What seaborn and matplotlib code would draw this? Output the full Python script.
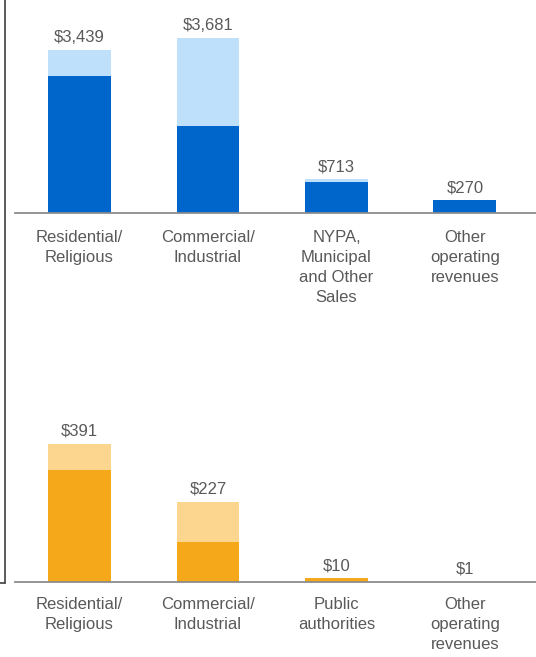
import matplotlib
matplotlib.use("Agg")
import matplotlib.pyplot as plt
from matplotlib.lines import Line2D
import seaborn as sns
import pandas as pd

# Electric operating revenues ($ millions)
elec_categories = ["Residential/\nReligious", "Commercial/\nIndustrial",
                   "NYPA,\nMunicipal\nand Other\nSales", "Other\noperating\nrevenues"]
elec_totals = [3439, 3681, 713, 270]
elec_base = [2900, 1845, 650, 270]

# Gas operating revenues ($ millions)
gas_categories = ["Residential/\nReligious", "Commercial/\nIndustrial",
                  "Public\nauthorities", "Other\noperating\nrevenues"]
gas_totals = [391, 227, 10, 1]
gas_base = [318, 114, 10, 1]

ELEC_DARK, ELEC_LIGHT = "#0066CC", "#BEE0FB"
GAS_DARK, GAS_LIGHT = "#F6A81B", "#FCD58F"
TEXT = "#595959"

sns.set_theme(style="white")
plt.rcParams["font.family"] = ["Liberation Sans", "DejaVu Sans"]

W, H = 536, 657
fig = plt.figure(figsize=(W / 100, H / 100), dpi=100)


def panel(rect, cats, totals, base, dark, light, ymax, pad):
    ax = fig.add_axes(rect)
    df = pd.DataFrame({"cat": cats, "total": totals, "base": base})
    sns.barplot(data=df, x="cat", y="total", order=cats, color=light,
                saturation=1, width=0.49, linewidth=0, ax=ax)
    sns.barplot(data=df, x="cat", y="base", order=cats, color=dark,
                saturation=1, width=0.49, linewidth=0, ax=ax)
    ax.set_xlim(-0.502, 3.553)
    ax.set_ylim(0, ymax)
    ax.set_xlabel("")
    ax.set_ylabel("")
    ax.set_yticks([])
    for s in ("top", "right", "left"):
        ax.spines[s].set_visible(False)
    ax.spines["bottom"].set_color("#8C8C8C")
    ax.spines["bottom"].set_linewidth(1.3)
    ax.tick_params(axis="x", length=0, pad=pad, labelsize=12, labelcolor=TEXT)
    for lab in ax.get_xticklabels():
        lab.set_linespacing(1.43)
    for i, v in enumerate(totals):
        ax.annotate(f"${v:,}", (i, v), xytext=(0, 6), textcoords="offset points",
                    ha="center", va="baseline", fontsize=12, color=TEXT,
                    annotation_clip=False)
    return ax


# top panel: baseline at y=213 px, 0.04749 px per unit
top_base = 213.3
panel([15 / W, (H - top_base) / H, 521 / W, top_base / H],
      elec_categories, elec_totals, elec_base, ELEC_DARK, ELEC_LIGHT,
      top_base / 0.04749, 12)

# bottom panel: baseline at y=582 px, 0.3529 px per unit
bot_base, bot_top = 582.0, 400.0
panel([15 / W, (H - bot_base) / H, 521 / W, (bot_base - bot_top) / H],
      gas_categories, gas_totals, gas_base, GAS_DARK, GAS_LIGHT,
      (bot_base - bot_top) / 0.3529, 10.5)

# bracket along the left edge
x0 = 4.5 / W
yb = (H - 583) / H
fig.add_artist(Line2D([x0, x0], [1.0, yb], color="#404040", lw=1.2,
                      transform=fig.transFigure))
fig.add_artist(Line2D([0, x0], [yb, yb], color="#404040", lw=1.2,
                      transform=fig.transFigure))

fig.savefig("out.png", dpi=100)
